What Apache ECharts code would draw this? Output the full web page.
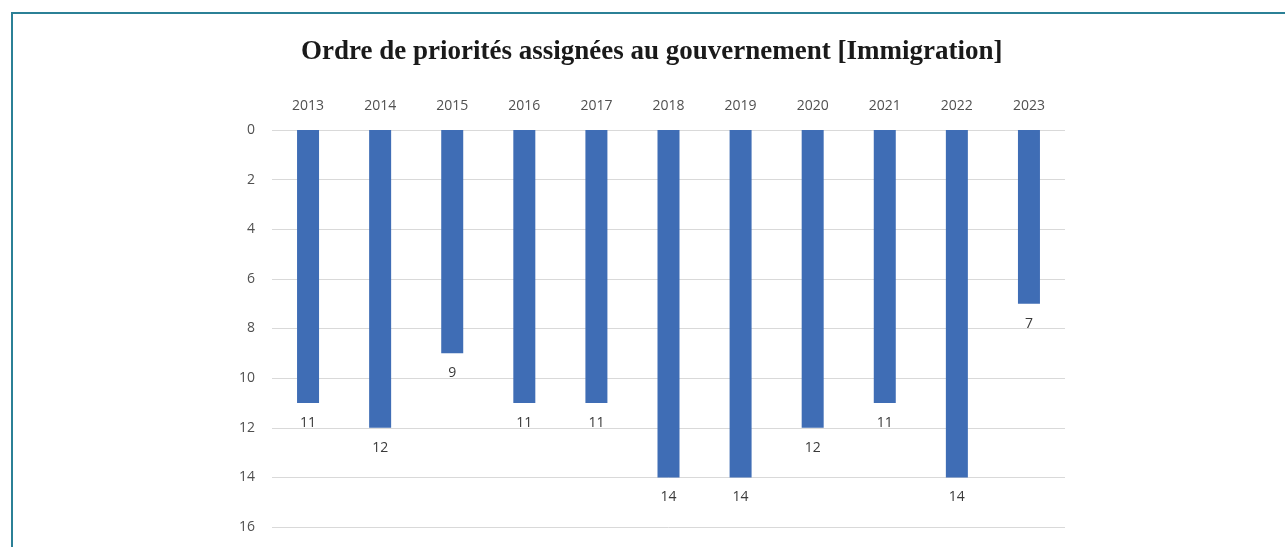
<!DOCTYPE html>
<html><head><meta charset="utf-8">
<script src="https://cdn.jsdelivr.net/npm/echarts@6/dist/echarts.min.js"></script>
<style>html,body{margin:0;padding:0;background:#fff}#c{width:1285px;height:547px}</style>
</head><body><div id="c"></div>
<script>
const years = ['2013','2014','2015','2016','2017','2018','2019','2020','2021','2022','2023'];
const ranks = [11, 12, 9, 11, 11, 14, 14, 12, 11, 14, 7];
const title = 'Ordre de priorités assignées au gouvernement [Immigration]';

const chart = echarts.init(document.getElementById('c'), null, {renderer:'canvas'});
chart.setOption({
  animation:false,
  backgroundColor:'#fff',
  title:{text:title,left:296,top:34,textStyle:{fontFamily:'Liberation Serif',fontWeight:'bold',fontSize:27,color:'#1a1a1a'}},
  graphic:[
    {type:'polyline',shape:{points:[[12,547],[12,13],[1285,13]]},style:{stroke:'#2B8096',lineWidth:2,fill:null},silent:true}
  ],
  grid:{left:272,right:220,top:130,bottom:20},
  xAxis:{type:'category',data:years,position:'top',
    axisLine:{show:false},axisTick:{show:false},
    axisLabel:{color:'#505050',fontFamily:'Open Sans',fontSize:14,margin:17}},
  yAxis:{type:'value',inverse:true,min:0,max:16,interval:2,
    axisLine:{show:false},axisTick:{show:false},
    axisLabel:{color:'#505050',fontFamily:'Open Sans',fontSize:14,margin:17},
    splitLine:{lineStyle:{color:'#D9D9D9',width:1}}},
  series:[{type:'bar',data:ranks,barWidth:22,
    itemStyle:{color:'#3F6DB5'},
    label:{show:true,position:'bottom',distance:13,color:'#3a3a3a',fontFamily:'Open Sans',fontSize:14}}]
});
</script></body></html>
